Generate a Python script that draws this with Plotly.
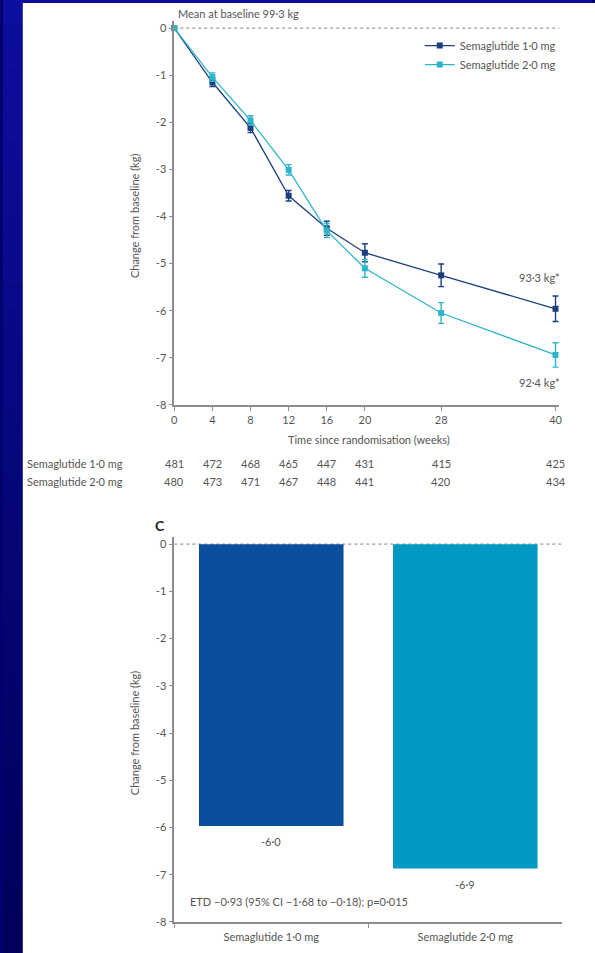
import plotly.graph_objects as go

# ---------------- data ----------------
weeks = [0, 4, 8, 12, 16, 20, 28, 40]
sema1_change = [0, -1.15, -2.12, -3.56, -4.25, -4.77, -5.25, -5.96]
sema1_err = [0, 0.09, 0.10, 0.11, 0.15, 0.19, 0.24, 0.27]
sema2_change = [0, -1.04, -1.96, -3.01, -4.30, -5.10, -6.05, -6.94]
sema2_err = [0, 0.09, 0.10, 0.11, 0.15, 0.19, 0.22, 0.26]
series_names = ["Semaglutide 1·0 mg", "Semaglutide 2·0 mg"]
n_at_risk_1 = [481, 472, 468, 465, 447, 431, 415, 425]
n_at_risk_2 = [480, 473, 471, 467, 448, 441, 420, 434]
end_labels = ["93·3 kg*", "92·4 kg*"]
y_tick_vals = [0, -1, -2, -3, -4, -5, -6, -7, -8]
y_tick_text = ["0", "-1", "-2", "-3", "-4", "-5", "-6", "-7", "-8"]

bar_categories = ["Semaglutide 1·0 mg", "Semaglutide 2·0 mg"]
bar_values = [-5.97, -6.87]
bar_labels = ["-6·0", "-6·9"]
etd_text = "ETD −0·93 (95% CI −1·68 to −0·18); p=0·015"
baseline_text = "Mean at baseline 99·3 kg"

# ---------------- style ----------------
W, H = 595, 953          # target picture size (layout is designed in these pixels)
FIG_H = 961              # rendered height (compensates the viewer's vertical rescale)
def px(x):
    return x / W
def py(y):
    return 1 - y / H

DARK = "#1d3f80"
CYAN = "#2db5c9"
BAR_DARK = "#0b4e9b"
BAR_CYAN = "#0399c3"
AX = "#8c8c8c"
TXT = "#555555"
FONT = "Lato"

fig = go.Figure()

fig.add_trace(go.Scatter(
    x=weeks, y=sema1_change, name=series_names[0], mode="lines+markers",
    line=dict(color=DARK, width=1.3),
    marker=dict(symbol="square", size=6, color=DARK),
    error_y=dict(type="data", array=sema1_err, color=DARK, thickness=1.4, width=3),
    cliponaxis=False, xaxis="x", yaxis="y"))
fig.add_trace(go.Scatter(
    x=weeks, y=sema2_change, name=series_names[1], mode="lines+markers",
    line=dict(color=CYAN, width=1.3),
    marker=dict(symbol="square", size=6, color=CYAN),
    error_y=dict(type="data", array=sema2_err, color=CYAN, thickness=1.4, width=3),
    cliponaxis=False, xaxis="x", yaxis="y"))

fig.add_trace(go.Bar(
    x=bar_categories, y=bar_values, marker=dict(color=[BAR_DARK, BAR_CYAN], line=dict(width=0)),
    width=0.745, showlegend=False, xaxis="x2", yaxis="y2", cliponaxis=False))

shapes = []
# gradient background bands
nb = 40
for i in range(nb):
    t = i / (nb - 1)
    r = int(14 * (1 - t))
    g = int(14 * (1 - t))
    b = int(158 - 68 * t)
    shapes.append(dict(type="rect", xref="paper", yref="paper", x0=0, x1=1,
                       y0=1 - (i + 1) / nb, y1=1 - i / nb, line=dict(width=0),
                       fillcolor=f"rgb({r},{g},{b})", layer="below"))
# white panel
shapes.append(dict(type="rect", xref="paper", yref="paper", x0=px(20), x1=1.01,
                   y0=-0.01, y1=py(3), line=dict(width=0), fillcolor="white", layer="below"))
# dashed zero lines
shapes.append(dict(type="line", xref="x", yref="y", x0=0, x1=40.4, y0=0, y1=0,
                   line=dict(color="#9a9a9a", width=1.2, dash="dot"), layer="below"))
shapes.append(dict(type="line", xref="x2", yref="y2", x0=-0.5, x1=1.5, y0=0, y1=0,
                   line=dict(color="#9a9a9a", width=1.2, dash="dot"), layer="below"))

ann = []
def txt(x, y, s, size=11, xanchor="center", yanchor="middle", xref="paper", yref="paper",
        color=TXT, angle=0, weight="normal", yshift=0):
    ann.append(dict(x=x, y=y, xref=xref, yref=yref, text=s,
                    showarrow=False, xanchor=xanchor, yanchor=yanchor, textangle=angle,
                    yshift=yshift, font=dict(family=FONT, size=size, color=color, weight=weight)))

txt(px(175), py(13), baseline_text, xanchor="left")
txt(px(565), py(277), end_labels[0], xanchor="right")
txt(px(565), py(382), end_labels[1], xanchor="right")
txt(px(370), py(439), "Time since randomisation (weeks)")
txt(px(133), py(215), "Change from baseline (kg)", angle=-90)
txt(px(22), py(463), series_names[0], xanchor="left")
txt(px(22), py(480), series_names[1], xanchor="left")
for w, a, b in zip(weeks, n_at_risk_1, n_at_risk_2):
    txt(w, py(463), str(a), xref="x")
    txt(w, py(480), str(b), xref="x")

# bottom panel
txt(px(152), py(524), "C", size=14, xanchor="left", color="#222", weight="bold")
txt(px(133), py(731), "Change from baseline (kg)", angle=-90)
for c, v, l in zip(bar_categories, bar_values, bar_labels):
    txt(c, v, l, xref="x2", yref="y2", yanchor="top", yshift=-7)
txt(px(187), py(900), etd_text, xanchor="left")

axis_common = dict(showline=True, linecolor=AX, linewidth=1.5, ticks="outside",
                   tickcolor=AX, ticklen=4, tickwidth=1.3, showgrid=False, zeroline=False,
                   tickfont=dict(family=FONT, size=11, color=TXT))

fig.update_layout(
    width=W, height=FIG_H, margin=dict(l=0, r=0, t=0, b=0),
    paper_bgcolor="rgb(0,0,110)", plot_bgcolor="rgba(0,0,0,0)",
    showlegend=True,
    legend=dict(x=px(421), y=py(31), xanchor="left", yanchor="top",
                bgcolor="rgba(0,0,0,0)", font=dict(family=FONT, size=11, color=TXT),
                itemwidth=30, tracegroupgap=0),
    xaxis=dict(domain=[px(173), px(562)], range=[0, 40.4], tickvals=weeks,
               anchor="y", **axis_common),
    yaxis=dict(domain=[py(404), py(21)], range=[-8, 0.15], tickvals=y_tick_vals,
               ticktext=y_tick_text, anchor="x", **axis_common),
    xaxis2=dict(domain=[px(173), px(565)], range=[-0.5, 1.5], type="category",
                tickson="boundaries", anchor="y2", ticklabelstandoff=4, **axis_common),
    yaxis2=dict(domain=[py(920), py(536)], range=[-8, 0.15], tickvals=y_tick_vals,
                ticktext=y_tick_text, anchor="x2", **axis_common),
    shapes=shapes, annotations=ann,
)

post = (
    "document.documentElement.style.margin='0';"
    "document.documentElement.style.padding='0';"
    "document.documentElement.style.overflow='hidden';"
    "document.body.style.margin='0';"
    "document.body.style.padding='0';"
    "document.body.style.overflow='hidden';"
    "var gd=document.getElementById('{plot_id}');"
    "gd.style.position='fixed';gd.style.left='0px';gd.style.top='0px';"
)

fig.write_html("out.html", config={"displayModeBar": False}, post_script=post)
